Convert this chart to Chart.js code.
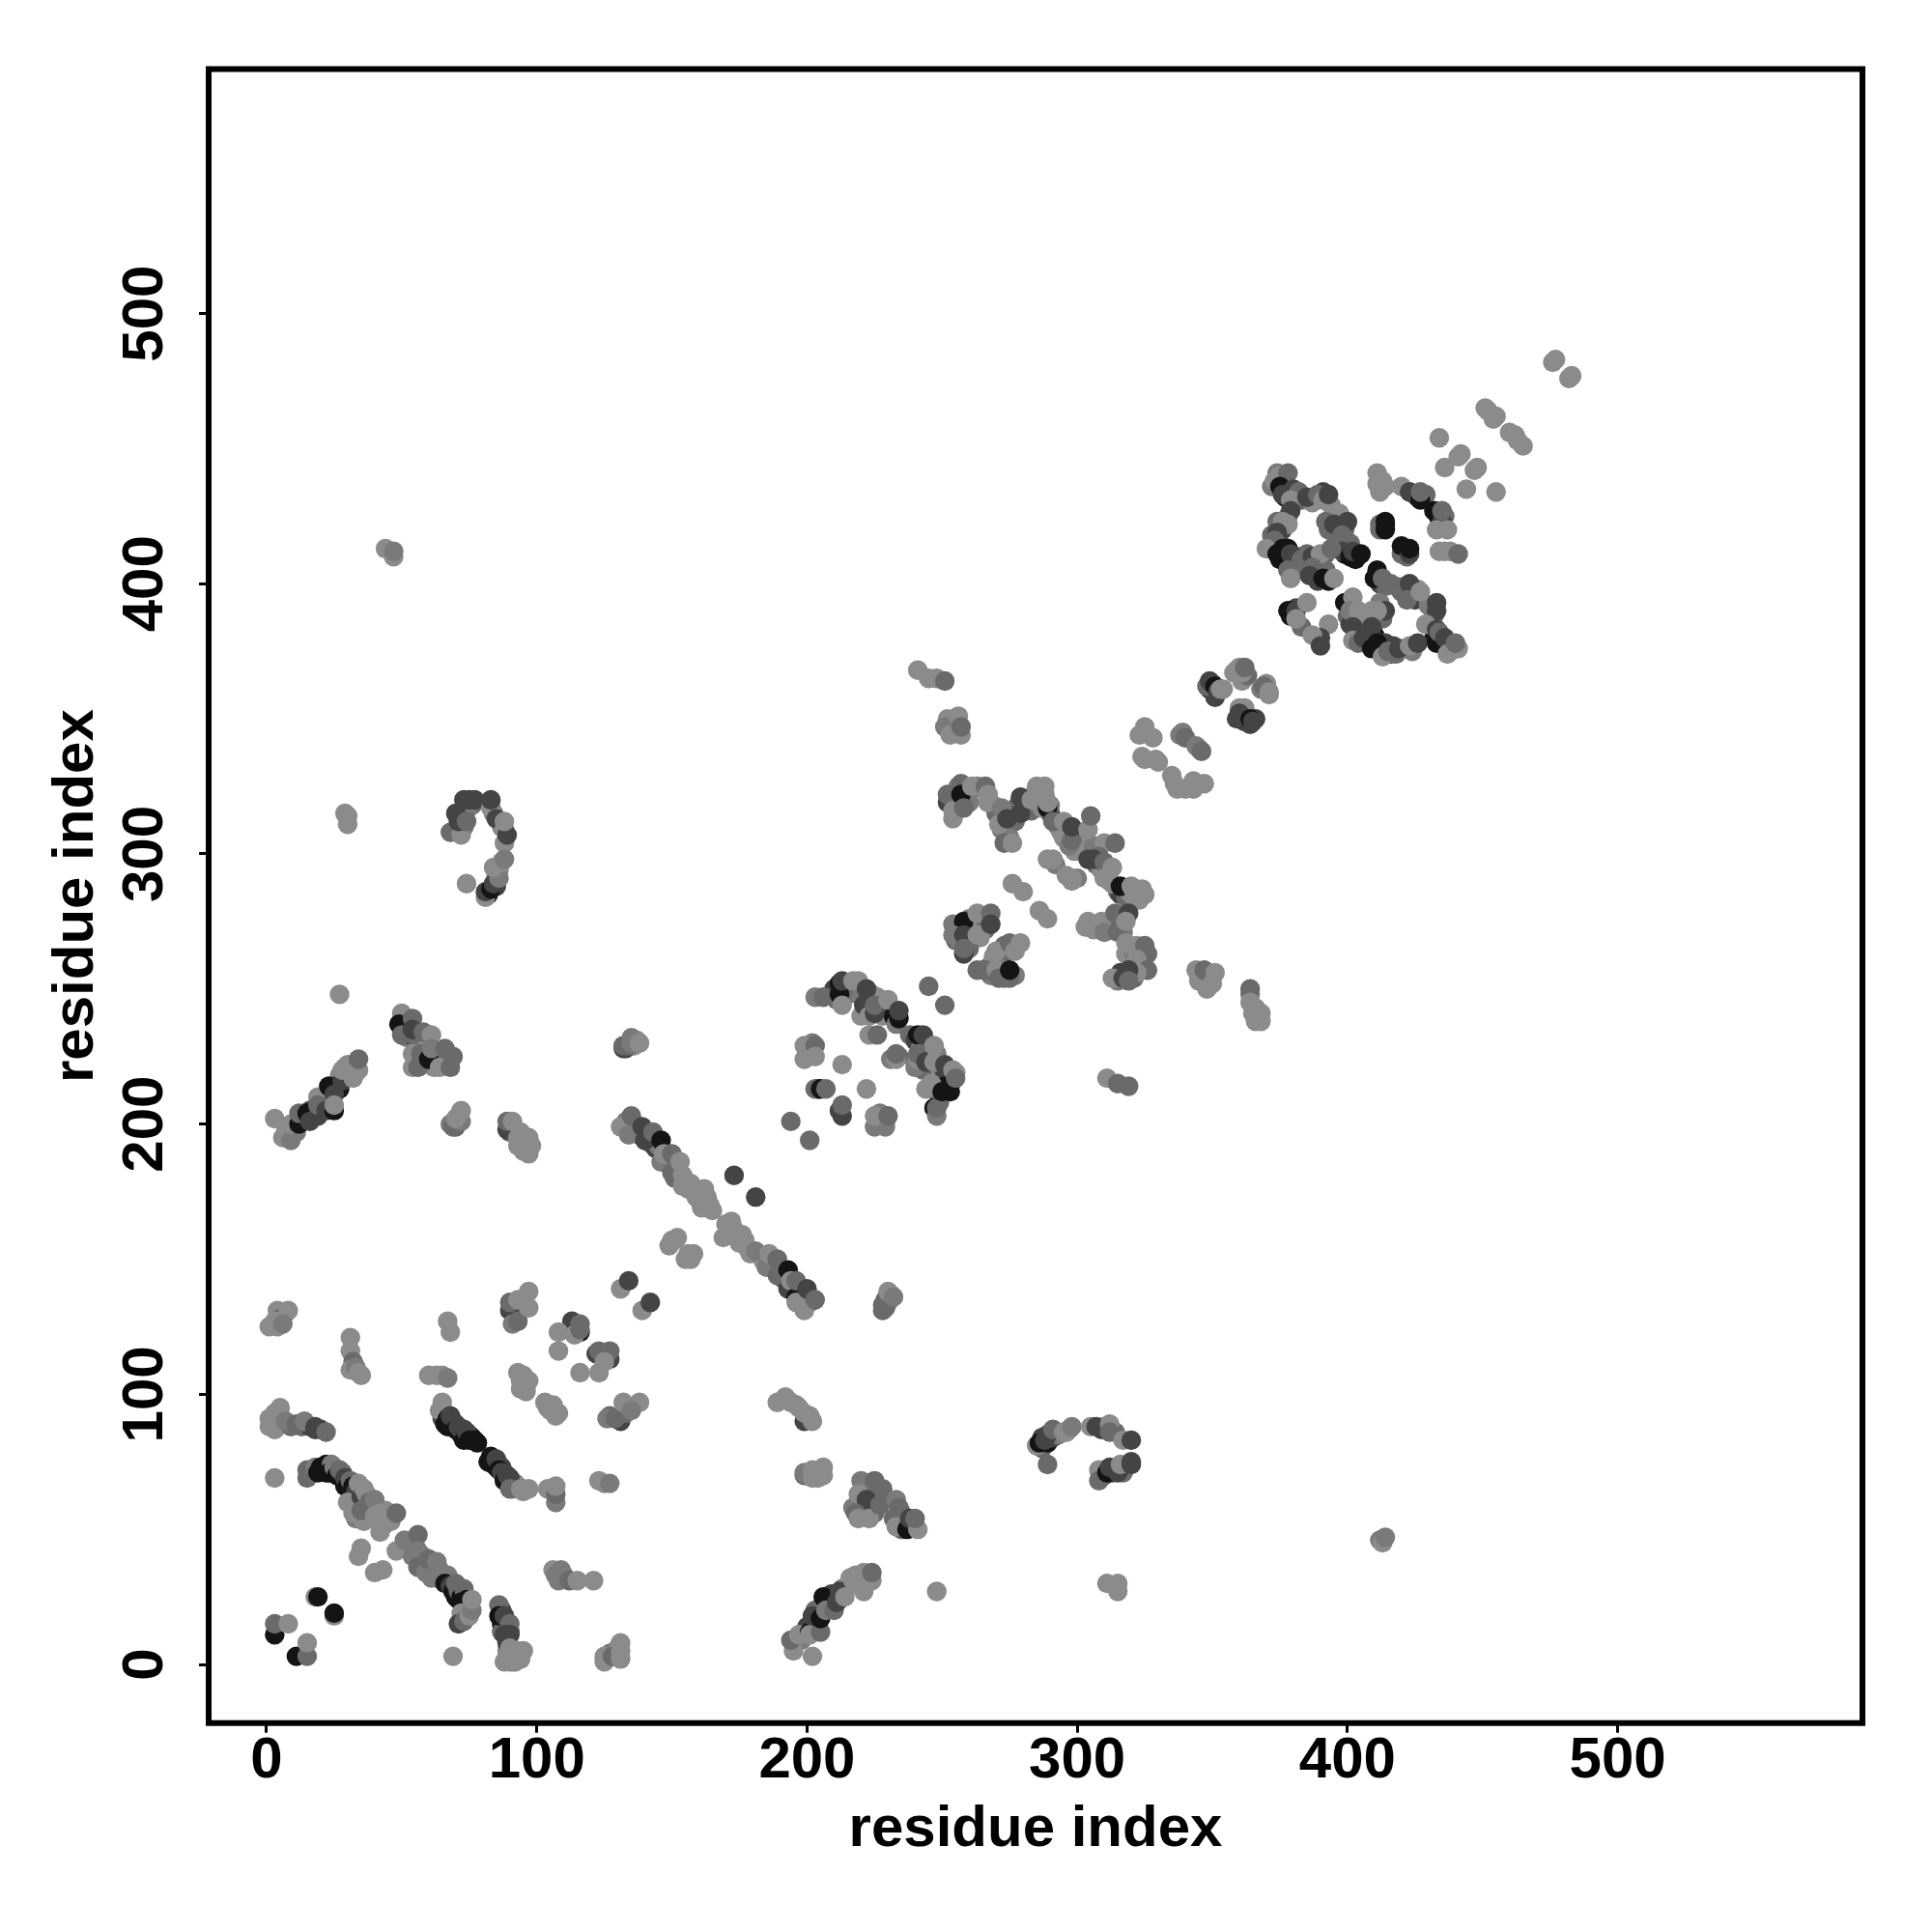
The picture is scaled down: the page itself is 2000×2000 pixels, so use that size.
<!DOCTYPE html>
<html><head><meta charset="utf-8">
<style>html,body{margin:0;padding:0;background:#fff}canvas{display:block}</style>
<script src="https://cdn.jsdelivr.net/npm/chart.js@4/dist/chart.umd.min.js"></script>
</head><body><canvas id="c" width="2000" height="2000"></canvas>
<script>
// each contact: [residue i, residue j, strength class 1 (weak) .. 5 (strong)]
const cornerLow = [[3,11,5],[3,15,3],[8,15,1],[11,3,5],[15,3,3],[15,8,1],[18,25,1],[19,25,5],[25,18,1],[25,19,5],[69,3,1],[3,69,1]];
const cornerHigh = [[1,125,1],[4,125,1],[4,131,1],[7,130,1],[5,128,3],[8,131,1],[3,127,1],[6,126,2],[31,121,1],[31,116,1],[32,112,3],[31,109,1],[33,110,2],[34,108,1],[35,107,1],[60,107,1],[63,107,1],[65,107,1],[67,106,2],[67,127,1],[68,123,1]];
const midCluster = [[90,131,4],[91,126,2],[93,127,3],[90,134,3],[93,135,1],[97,132,1],[97,138,1],[113,127,4],[116,123,5],[114,122,1],[108,123,1],[108,116,1],[116,126,3],[116,124,3],[116,108,1],[123,108,1],[122,115,4],[127,113,4],[123,116,3],[127,116,3],[125,112,1],[131,139,1],[134,142,4],[139,131,1],[142,134,4],[127,92,3],[126,91,2],[131,90,4],[129,91,3],[133,93,3],[132,97,1],[138,97,1],[135,94,2]];
const midLight = [[93,108,1],[94,105,1],[94,102,1],[96,101,1],[95,107,1],[97,105,1],[96,103,1],[103,97,1],[104,95,1],[106,96,1],[108,93,1],[107,92,1],[105,94,1],[104,65,1],[107,60,2],[107,63,3],[107,66,1],[123,68,1],[125,67,1],[127,67,2],[106,35,1],[109,35,2],[108,31,2],[107,33,2],[110,33,2],[112,31,3],[115,31,1],[121,31,1]];
const helixTop = [[2,90,1],[4,88,1],[3,87,1],[9,88,3],[13,88,3],[16,88,4],[20,87,4],[1,88,1],[1,91,1],[3,93,1],[5,95,1],[7,90,2],[11,89,3],[14,90,2],[18,87,4],[18,88,4],[22,86,3]];
const strandA = [[17,71,5],[22,71,5],[28,69,5],[29,66,5],[31,64,5],[33,61,4],[34,60,3],[36,61,2],[38,58,3],[37,56,2],[39,54,1],[41,58,1],[43,54,1],[45,55,1],[46,53,1],[44,57,1],[42,52,1],[33,54,2],[36,53,1],[15,69,3],[15,72,3],[18,73,2],[19,71,5],[20,73,5],[21,72,5],[22,74,5],[24,74,2],[23,71,5],[25,73,2],[26,70,5],[27,72,3],[28,71,3],[29,69,4],[30,66,5],[31,68,3],[32,66,5],[33,64,4],[30,60,1],[34,67,1],[35,62,4],[36,65,1],[37,63,1],[32,56,1],[35,57,3],[38,60,3],[40,61,2],[40,55,1],[42,56,1],[44,52,1],[42,49,1],[48,56,3]];
const strandB = [[52,44,2],[53,42,2],[58,40,2],[62,36,2],[57,38,3],[58,36,2],[60,35,3],[62,33,2],[63,33,3],[66,33,3],[68,31,3],[70,25,5],[71,24,5],[73,22,5],[35,43,1],[34,40,1],[40,34,1],[43,35,1],[48,42,1],[51,46,2],[55,44,2],[56,48,3],[56,42,2],[54,40,2],[56,36,3],[59,34,2],[60,39,3],[63,38,2],[61,32,2],[64,35,2],[65,31,2],[67,33,2],[66,30,5],[68,29,4],[69,27,5],[70,30,3],[71,27,3],[72,25,5],[73,28,3],[72,23,5],[75,21,5],[74,24,5],[73,18,5],[72,19,1],[71,15,4],[73,16,3],[75,18,1],[76,20,2],[76,24,1]];
const strandC = [[66,93,2],[65,91,4],[67,88,5],[69,90,4],[70,89,4],[72,85,5],[73,87,4],[75,85,4],[76,84,5],[78,82,5],[83,75,5],[84,76,4],[85,73,4],[86,74,4],[87,73,4],[88,70,4],[89,69,5],[91,67,3],[92,67,2],[93,66,1],[95,64,1],[91,65,1],[64,94,1],[65,97,1],[66,89,5],[67,91,5],[68,92,4],[70,87,5],[71,88,4],[72,87,4],[73,83,5],[74,86,4],[75,83,5],[77,83,5],[82,75,5],[83,77,5],[84,74,5],[85,76,4],[86,72,5],[87,71,4],[88,68,5],[89,70,4],[90,69,4],[90,65,3],[94,65,1],[97,65,1]];
const strandD = [[87,20,4],[87,15,5],[88,14,4],[89,13,4],[90,12,4],[87,12,3],[89,5,1],[91,3,1],[93,5,1],[90,1,1],[92,1,1],[93,3,1],[125,2,1],[127,4,2],[129,5,3],[130,6,1],[86,22,3],[86,18,5],[88,18,4],[90,15,3],[88,11,4],[90,11,4],[89,8,4],[90,6,1],[89,3,1],[88,1,1],[91,1,1],[92,3,1],[94,2,1],[95,5,1],[125,1,1],[125,3,1],[128,3,3],[131,2,1],[131,5,1],[131,8,1]];
const topLeft = [[82,285,5],[85,288,4],[85,292,1],[86,294,1],[73,310,3],[72,315,3],[76,318,3],[74,316,2],[73,320,4],[87,310,1],[88,304,1],[84,315,2],[44,413,1],[47,410,1],[47,412,2],[29,315,1],[30,311,1],[30,314,1],[74,289,1],[68,308,3],[72,307,1],[70,315,4],[71,312,4],[74,312,3],[75,320,4],[77,320,4],[83,317,1],[83,320,4],[85,313,4],[88,309,1],[89,307,4],[88,312,1],[81,284,1],[81,286,4],[83,287,5],[84,289,4],[86,291,2],[84,295,1],[87,297,1],[88,298,2]];
const arcLeft = [[14,202,4],[16,205,4],[18,206,4],[20,207,5],[21,209,4],[24,208,3],[24,213,5],[26,215,4],[27,213,5],[27,218,1],[29,218,1],[31,219,1],[33,222,1],[8,198,2],[7,197,1],[10,199,5],[11,197,2],[33,219,1],[29,221,1],[30,218,2],[27,248,1],[3,202,1],[6,195,1],[9,194,2],[9,200,1],[12,200,5],[12,204,3],[15,204,5],[16,201,4],[19,203,4],[19,210,1],[19,207,3],[22,205,4],[25,205,5],[23,214,5],[25,211,4],[25,207,1],[28,216,4],[28,220,1],[32,217,1],[30,222,1],[32,221,1],[34,220,1],[34,224,3]];
const arcRight = [[50,238,4],[52,236,3],[52,232,2],[53,233,4],[56,234,3],[56,231,3],[59,223,4],[58,224,1],[60,222,3],[61,222,2],[62,221,1],[59,228,1],[62,225,2],[64,225,3],[65,224,1],[67,224,3],[57,222,2],[68,200,2],[70,199,3],[71,203,1],[90,197,3],[92,198,1],[94,197,1],[95,193,1],[95,190,1],[50,236,5],[50,241,1],[49,237,5],[50,233,3],[54,239,3],[54,235,4],[58,234,3],[61,233,1],[54,226,1],[54,221,1],[56,221,3],[57,226,3],[60,224,5],[61,228,2],[64,221,1],[68,221,3],[66,228,3],[69,225,3],[69,199,3],[72,201,2],[70,202,1],[72,205,1],[89,198,4],[89,201,3],[91,201,1],[93,195,1],[93,192,1],[97,189,1],[97,195,1],[98,192,1]];
const longStrand = [[133,201,2],[136,200,3],[137,198,4],[138,196,4],[141,197,3],[142,193,3],[144,191,4],[145,192,2],[148,187,2],[149,185,3],[152,183,2],[151,180,3],[155,179,1],[156,176,1],[158,175,1],[160,172,1],[163,173,1],[165,168,1],[170,163,1],[171,159,1],[175,156,1],[176,159,1],[179,152,1],[183,151,2],[184,149,1],[187,148,2],[188,147,3],[190,146,3],[191,143,3],[192,142,4],[195,140,3],[197,138,4],[198,135,3],[199,137,4],[201,134,3],[149,155,1],[152,158,1],[155,150,1],[157,150,1],[133,228,4],[136,229,1],[137,231,1],[229,135,3],[230,134,2],[229,132,3],[231,137,1],[132,228,4],[132,229,3],[134,229,3],[135,230,2],[135,232,2],[138,230,1],[131,199,1],[135,203,3],[134,196,2],[139,199,4],[140,194,4],[143,197,3],[146,194,5],[146,186,2],[147,189,1],[150,182,3],[150,189,3],[153,186,1],[154,177,1],[154,181,1],[157,178,1],[159,173,1],[161,169,1],[162,176,1],[164,170,1],[150,157,1],[151,157,1],[156,152,1],[158,152,1],[173,181,4],[181,173,4],[169,158,1],[172,164,1],[173,161,1],[177,157,1],[178,154,1],[181,153,2],[185,147,2],[186,152,1],[189,150,3],[189,144,3],[193,146,5],[193,139,4],[194,142,1],[196,136,5],[196,142,3],[196,134,1],[199,131,1],[200,139,4],[203,135,3],[228,131,3],[228,133,3],[230,138,1],[232,136,2]];
const rightLow = [[221,66,3],[220,63,2],[223,64,2],[225,62,3],[224,58,2],[225,56,3],[221,58,2],[217,58,2],[235,56,3],[236,52,4],[235,50,3],[239,52,3],[197,95,1],[194,97,1],[200,70,2],[204,71,1],[204,69,1],[189,97,1],[192,99,1],[196,96,1],[199,90,4],[199,93,1],[201,92,1],[202,90,1],[199,70,3],[199,71,2],[202,69,1],[202,72,1],[206,70,1],[206,73,1],[220,68,2],[225,68,3],[219,63,1],[222,61,4],[222,55,4],[218,56,3],[219,54,1],[223,54,1],[227,59,3],[228,65,3],[233,61,2],[234,58,3],[232,54,3],[233,51,1],[237,50,5],[238,54,4],[241,50,1],[240,54,3]];
const rightHook = [[287,80,3],[287,84,4],[289,82,5],[291,84,4],[293,85,2],[297,87,1],[310,88,2],[309,87,4],[314,86,3],[310,70,4],[313,71,4],[318,73,3],[317,71,3],[285,81,1],[286,82,5],[288,83,4],[289,85,4],[291,87,3],[295,86,1],[296,86,1],[298,88,2],[289,74,3],[305,88,1],[307,88,4],[312,89,1],[312,86,3],[317,83,1],[320,83,4],[308,72,1],[308,68,3],[311,71,5],[312,73,4],[315,71,4],[316,74,1],[320,74,4],[320,75,4],[311,30,1],[315,27,1],[315,30,1],[412,46,2],[413,45,1],[414,47,2]];
const riseCurve = [[196,8,1],[198,9,2],[199,12,5],[200,14,4],[203,14,3],[204,15,5],[203,20,3],[205,21,3],[207,24,5],[208,22,4],[209,26,4],[210,25,4],[212,24,2],[213,28,2],[215,29,1],[216,32,1],[218,33,1],[219,30,1],[222,31,1],[202,3,1],[195,5,1],[194,9,3],[197,11,1],[201,12,5],[201,11,1],[205,12,3],[202,18,4],[205,17,5],[206,25,5],[207,20,2],[210,20,3],[211,23,4],[212,27,4],[214,25,1],[217,31,1],[221,27,1],[221,34,1],[224,31,1],[224,34,3],[248,27,1]];
const midUpper = [[210,250,4],[211,246,3],[213,250,5],[215,252,3],[215,248,3],[220,247,2],[222,246,3],[224,248,2],[226,247,1],[228,245,1],[229,242,2],[228,240,1],[231,243,3],[232,240,5],[233,237,2],[224,243,4],[220,240,1],[238,233,3],[240,231,4],[242,228,2],[245,226,4],[243,220,3],[240,221,2],[248,226,2],[250,220,2],[251,218,4],[252,215,4],[252,214,5],[254,216,2],[255,219,1],[251,214,5],[248,212,4],[246,215,1],[249,208,3],[231,224,2],[234,225,3],[201,227,1],[202,230,2],[204,213,5],[212,205,4],[226,201,1],[228,200,1],[227,204,2],[203,247,2],[206,247,3],[212,248,5],[212,252,5],[213,253,4],[213,244,1],[217,253,1],[219,253,1],[222,250,4],[221,244,4],[223,240,1],[225,241,4],[225,244,3],[230,246,1],[234,239,5],[234,242,4],[245,251,3],[251,244,3],[223,233,1],[226,233,3],[233,224,1],[233,226,3],[241,233,5],[243,233,4],[241,224,1],[241,226,3],[244,223,4],[247,223,1],[247,229,1],[244,213,1],[247,206,5],[248,203,2],[248,206,3],[250,212,5],[253,212,5],[251,222,4],[254,220,1],[255,217,3],[199,229,1],[203,229,3],[199,224,1],[203,225,1],[213,222,1],[203,213,3],[205,213,5],[207,213,3],[222,213,1],[213,203,4],[213,207,3],[194,201,3],[201,194,3],[225,199,2],[229,199,2],[225,203,1],[230,203,3],[311,217,1],[315,215,3],[319,214,3]];
const midDiag = [[253,320,3],[254,318,3],[255,323,3],[256,325,2],[255,316,2],[259,322,4],[260,319,2],[263,325,2],[265,324,2],[269,318,2],[270,315,3],[272,309,2],[274,307,2],[273,311,3],[276,316,4],[278,318,3],[277,312,3],[281,318,4],[283,316,3],[284,322,1],[286,322,2],[287,320,4],[288,322,1],[290,315,4],[290,318,2],[293,310,2],[294,308,1],[296,308,3],[297,306,3],[299,308,1],[301,306,2],[303,305,1],[306,303,2],[275,306,2],[287,317,1],[299,301,1],[292,296,2],[296,292,1],[300,291,2],[241,368,1],[245,365,1],[248,365,1],[251,364,3],[252,350,1],[251,347,2],[253,344,1],[256,351,1],[257,344,1],[257,347,3],[252,319,4],[252,322,3],[254,313,1],[254,316,1],[257,326,3],[257,322,5],[258,317,3],[261,325,1],[266,325,3],[267,322,1],[267,319,1],[271,311,1],[272,317,2],[273,304,3],[274,313,4],[276,304,1],[279,315,4],[279,321,4],[283,320,1],[285,325,1],[288,325,1],[289,317,5],[289,319,1],[291,312,3],[295,312,1],[295,306,1],[297,303,2],[298,305,3],[298,310,4],[304,309,1],[305,314,3],[310,304,1],[314,304,3],[289,298,1],[291,298,1],[298,290,1],[298,291,1]];
const midDiag2 = [[307,296,3],[308,299,3],[309,294,1],[311,293,3],[312,290,2],[315,286,3],[316,285,4],[318,284,3],[319,286,1],[322,286,1],[323,283,1],[324,287,1],[306,272,1],[311,273,3],[313,274,3],[315,276,4],[316,274,3],[317,271,2],[318,263,1],[321,263,2],[323,262,3],[324,264,3],[320,257,3],[321,254,3],[318,255,5],[315,253,2],[316,256,4],[256,272,3],[257,273,2],[255,268,3],[257,267,2],[260,276,2],[261,272,2],[262,273,1],[265,277,3],[266,272,3],[264,269,1],[260,265,3],[267,258,3],[268,255,2],[269,262,1],[272,262,1],[273,266,3],[274,264,3],[276,266,1],[272,257,2],[273,254,3],[274,256,3],[277,255,2],[346,255,1],[348,253,1],[349,255,3],[366,243,1],[364,248,2],[366,238,1],[304,298,4],[306,298,4],[310,297,3],[313,295,1],[310,291,1],[313,289,1],[316,288,5],[320,288,1],[321,284,1],[325,285,1],[276,289,1],[280,286,1],[286,279,1],[289,276,1],[303,273,1],[304,275,1],[307,273,1],[309,275,1],[310,271,2],[314,278,3],[319,278,4],[315,271,3],[318,275,1],[318,267,1],[322,266,1],[325,266,3],[326,263,3],[322,261,1],[326,257,3],[322,256,1],[319,257,4],[313,254,1],[317,254,4],[319,253,3],[254,274,2],[258,275,5],[254,270,2],[258,270,4],[263,270,1],[263,278,1],[268,278,3],[268,274,4],[258,263,4],[258,265,3],[270,264,1],[275,267,3],[277,264,1],[279,267,1],[263,257,3],[266,257,3],[270,257,1],[271,254,3],[275,254,3],[275,257,5],[344,257,1],[345,253,1],[347,257,3],[348,250,1],[350,252,1],[351,256,1],[364,250,3],[364,245,1],[365,241,1],[368,241,1],[368,238,1]];
const domainPairs = [[349,361,5],[350,361,4],[351,358,4],[348,362,3],[358,367,1],[359,368,1],[361,364,1],[363,366,3],[368,361,2],[370,363,1],[361,352,2],[362,349,4],[361,350,5],[363,350,4],[362,354,1],[364,348,4],[366,350,4],[349,364,4],[350,363,4],[351,362,5],[352,360,4],[353,361,1],[354,361,1],[360,369,1],[361,367,1],[362,369,3],[369,362,3],[371,359,1],[371,360,1],[360,354,1],[359,350,4],[360,352,4],[364,350,5],[365,349,4],[325,347,1],[323,344,1],[328,343,1],[338,344,2],[339,345,2],[340,343,3],[345,339,2],[344,340,2],[346,338,3],[324,336,1],[325,335,1],[329,335,1],[330,334,1],[335,329,1],[336,326,1],[337,324,1],[340,324,1],[343,327,1],[343,324,1],[347,326,1]];
const domainTop = [[372,436,2],[374,441,2],[376,438,4],[377,436,5],[377,432,5],[378,434,3],[380,431,1],[379,435,5],[383,431,3],[387,430,1],[391,434,4],[394,429,1],[396,424,3],[393,420,3],[397,420,4],[399,420,3],[396,416,3],[398,414,3],[399,411,5],[403,410,5],[401,413,4],[403,409,5],[376,420,4],[372,414,3],[375,415,4],[377,408,5],[375,409,5],[378,413,5],[380,408,4],[381,410,4],[381,406,3],[382,407,3],[384,408,1],[385,407,3],[385,411,3],[388,408,1],[389,409,1],[392,411,3],[389,401,4],[393,401,5],[392,405,3],[378,425,2],[374,423,3],[372,418,3],[373,438,1],[375,440,1],[378,441,3],[375,436,5],[376,433,4],[380,435,4],[382,434,3],[379,431,1],[385,432,4],[389,433,3],[391,431,1],[393,433,4],[397,426,1],[392,423,3],[400,423,4],[395,422,4],[398,418,3],[401,415,3],[398,412,4],[401,410,5],[402,412,4],[405,411,5],[379,427,4],[376,423,1],[378,422,1],[374,419,4],[373,416,3],[370,413,1],[376,413,5],[374,411,5],[379,411,4],[378,405,3],[379,402,1],[383,409,3],[387,410,4],[390,411,1],[394,413,3],[387,406,3],[386,403,4],[391,402,5],[395,402,1]];
const domainBottom = [[411,402,5],[412,400,4],[414,399,3],[416,400,3],[420,397,3],[421,399,3],[424,396,5],[425,394,4],[426,398,1],[430,392,2],[432,388,2],[431,385,1],[432,380,5],[435,379,4],[436,377,5],[438,375,3],[438,377,4],[410,388,3],[412,393,2],[413,387,3],[410,381,5],[408,378,5],[410,379,4],[412,376,4],[414,378,4],[416,374,4],[417,377,4],[418,374,3],[421,376,1],[424,375,2],[407,385,3],[408,388,1],[407,382,4],[379,388,5],[381,391,4],[383,384,3],[400,388,3],[401,385,4],[403,387,1],[378,390,5],[381,390,4],[381,387,1],[385,393,1],[393,385,1],[390,380,4],[387,381,1],[390,377,4],[399,393,5],[402,395,1],[401,390,2],[404,390,1],[402,384,4],[402,379,1],[404,378,3],[411,405,5],[410,402,5],[413,402,3],[414,390,4],[409,390,1],[411,390,1],[409,384,4],[406,380,4],[409,376,5],[411,378,5],[413,373,1],[415,375,3],[419,376,4],[423,377,1],[426,378,4],[418,399,3],[423,400,4],[422,394,3],[427,397,1],[433,393,4],[433,390,4],[429,385,1],[433,383,4],[433,378,5],[434,382,3],[436,380,4],[437,374,1],[441,376,1],[440,378,3]];
const domainOuter = [[411,437,1],[414,436,1],[426,432,5],[425,433,4],[429,433,3],[428,432,3],[434,424,4],[436,425,3],[432,427,5],[414,422,5],[421,412,5],[422,410,3],[412,420,3],[436,412,1],[411,441,1],[412,434,1],[413,438,1],[420,436,1],[423,434,4],[427,431,5],[427,434,3],[433,426,5],[435,423,4],[435,427,3],[433,420,1],[437,420,1],[412,422,3],[414,420,5],[414,423,5],[420,411,3],[420,414,5],[423,411,4],[423,413,5],[434,412,1],[438,412,1],[441,411,3]];
const tail = [[434,454,1],[436,443,1],[441,447,1],[442,448,1],[444,435,1],[447,442,1],[448,443,1],[455,434,1],[451,465,1],[452,464,1],[454,461,1],[455,462,1],[460,456,1],[462,455,1],[463,453,1],[465,451,1],[476,482,1],[477,483,1],[482,476,1],[483,477,1]];

const strengthGrays = ['#8b8b8b','#7a7a7a','#6a6a6a','#444444','#141414'];
const axisTicks = [0,100,200,300,400,500];
const axisLabel = 'residue index';

const contacts = [cornerLow,cornerHigh,midCluster,midLight,helixTop,strandA,strandB,strandC,strandD,topLeft,arcLeft,arcRight,longStrand,rightLow,rightHook,riseCurve,midUpper,midDiag,midDiag2,domainPairs,domainTop,domainBottom,domainOuter,tail].flat();

const frame = {id:'frame',afterDraw(chart){const a=chart.chartArea,c=chart.ctx;c.save();c.strokeStyle='#000';c.lineWidth=6;c.strokeRect(a.left,a.top,a.right-a.left,a.bottom-a.top);c.restore();}};
const font = {family:'"Liberation Sans"',size:60,weight:'bold',lineHeight:1.2};
function axis(fit,titlePad,extra){return Object.assign({
  type:'linear',min:-21.45,max:590.6,
  afterBuildTicks(s){s.ticks=axisTicks.map(v=>({value:v}));},
  afterFit:fit,
  grid:{display:true,drawOnChartArea:false,drawTicks:true,tickLength:10,tickWidth:3,tickColor:'#000'},
  border:{display:false},
  title:{display:true,text:axisLabel,color:'#000',font,padding:titlePad}
},extra);}
new Chart(document.getElementById('c'),{
  type:'scatter',
  data:{datasets:[{data:contacts.map(p=>({x:p[0],y:p[1]})),
    backgroundColor:contacts.map(p=>strengthGrays[p[2]-1]),
    pointRadius:10.2,pointBorderWidth:0,borderWidth:0,pointHoverRadius:10.2}]},
  plugins:[frame],
  options:{responsive:false,animation:false,
    layout:{padding:{left:0,top:71.5,right:72,bottom:0}},
    plugins:{legend:{display:false},tooltip:{enabled:false}},
    scales:{
      x:axis(s=>{s.height=216.3;},{top:0,bottom:69.5},{ticks:{color:'#000',font,padding:-6,maxRotation:0,minRotation:0,includeBounds:false}}),
      y:axis(s=>{s.width=216;},{top:43,bottom:0},{min:-21.7,max:590.5,ticks:{color:'#000',font,padding:4,minRotation:90,maxRotation:90,crossAlign:'center',includeBounds:false}})
    }
  }
});
</script></body></html>
